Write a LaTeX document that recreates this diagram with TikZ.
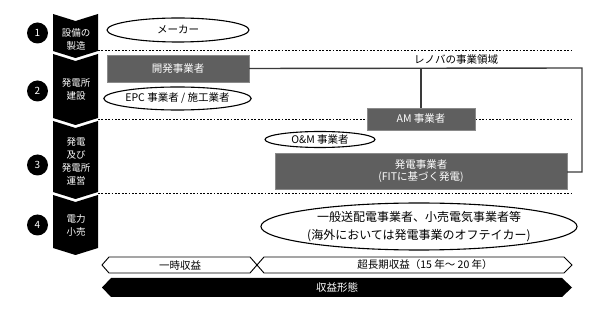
\documentclass[tikz,border=0pt]{standalone}
\usepackage{fontspec}
\setmainfont{Noto Sans CJK JP}
\usetikzlibrary{shapes.geometric}
\definecolor{boxgray}{HTML}{5F5F5F}
\definecolor{boxedge}{HTML}{8A8A8A}
\definecolor{linkgray}{HTML}{3A3A3A}

\begin{document}
\begin{tikzpicture}[x=1pt,y=-1pt,font=\fontsize{10.5}{12.5}\selectfont,
  numdot/.style={circle,fill=black,text=white,minimum size=21pt,inner sep=0pt,font=\fontsize{10}{12}\selectfont},
  stagetext/.style={text=white,align=center,font=\fontsize{9.5}{13}\selectfont},
  player/.style={rectangle,fill=boxgray,draw=boxedge,text=white,align=center,inner sep=0pt},
  oval/.style={ellipse,draw=black,line width=1.1pt,fill=white,align=center,inner sep=0pt},
  divider/.style={line width=1pt,dash pattern=on 1.8pt off 1.6pt},
  link/.style={draw=linkgray,line width=1.4pt},
  band/.style={draw=black,line width=0.9pt,fill=white}]
\useasboundingbox (0,0) rectangle (608,312);
% stages on the left
\foreach \t/\b in {14/51,54/118,121/192,195/248}
  \fill (53,\t)--(75.5,\t+7)--(98,\t)--(98,\b)--(75.5,\b+7)--(53,\b)--cycle;
\foreach \n/\y in {1/33,2/91,3/165,4/225}
  \node[numdot] (num\n) at (37.5,\y) {\n};
\node[stagetext] (stage1) at (76,39) {設備の\\製造};
\node[stagetext] (stage2) at (76,89.5) {発電所\\建設};
\node[stagetext] (stage3) at (76,161.5) {発電\\及び\\発電所\\運営};
\node[stagetext] (stage4) at (76,225) {電力\\小売};
% dotted dividers
\foreach \y in {51,119.5,194}
  \draw[divider] (98,\y)--(573,\y);
% players
\node[oval,minimum width=142pt,minimum height=24pt] (maker) at (178,30) {メーカー};
\node[player,minimum width=142pt,minimum height=27pt] (dev) at (178,68.5) {開発事業者};
\node[oval,minimum width=141pt,minimum height=23pt] (epc) at (177.5,98.5) {EPC 事業者 / 施工業者};
\node[player,minimum width=108pt,minimum height=22pt] (am) at (421,119) {AM 事業者};
\node[oval,minimum width=110pt,minimum height=16pt] (om) at (320,139.5) {O\&M 事業者};
\node[player,minimum width=292pt,minimum height=36pt,font=\fontsize{10.5}{12}\selectfont] (gen) at (421,171) {発電事業者\\(FITに基づく発電)};
\node[oval,minimum width=292pt,minimum height=47pt,font=\fontsize{12}{18}\selectfont] (offtaker) at (419,226.5) {一般送配電事業者、小売電気事業者等\\(海外においては発電事業のオフテイカー)};
% renova domain
\coordinate (domTop) at (582,68);
\coordinate (domBot) at (582,172);
\draw[link] (dev.east)--(domTop)--(domBot)--(gen.east|-domBot);
\draw[link] (am.north)--(am.north|-dev.east);
\node (domain) at (456,59.5) {レノバの事業領域};
% income bands
\filldraw[band] (102,265)--(109,257)--(250,257)--(257,265)--(250,273)--(109,273)--cycle;
\filldraw[band] (257,265)--(264,257)--(564,257)--(572,265)--(564,273)--(264,273)--cycle;
\fill (102,287.5)--(111,278)--(562,278)--(572,287.5)--(562,297)--(111,297)--cycle;
\node (shortterm) at (180,265) {一時収益};
\node (longterm) at (425,265) {超長期収益（15 年～ 20 年）};
\node[text=white] (income) at (337,287.5) {収益形態};
\end{tikzpicture}
\end{document}
